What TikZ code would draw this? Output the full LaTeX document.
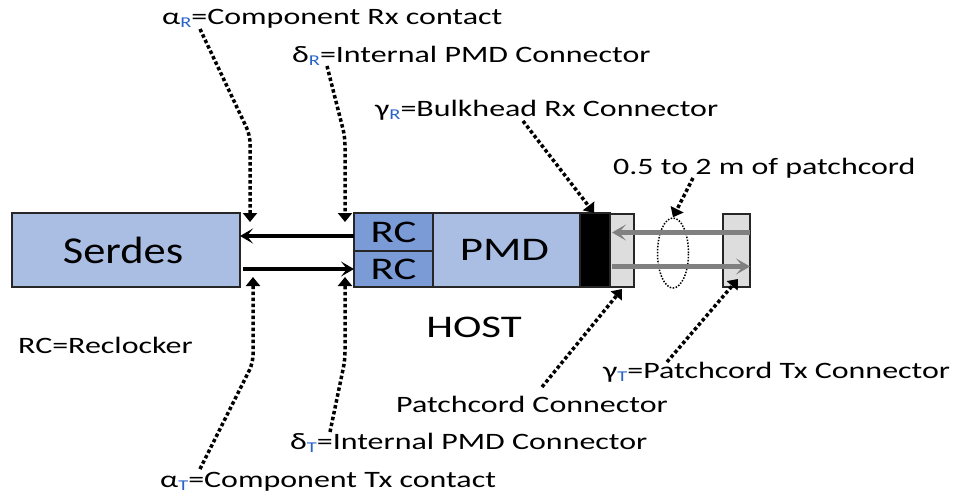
\documentclass[tikz,border=0pt]{standalone}
\usepackage{fontspec}
\setmainfont{Carlito}[FakeStretch=1.36]
\newfontfamily\serdesfont{Carlito}[FakeStretch=1.17]
\usetikzlibrary{arrows.meta,calc,shapes.geometric}
\definecolor{boxblue}{RGB}{170,190,228}
\definecolor{rcblue}{RGB}{122,155,214}
\definecolor{cordgray}{RGB}{221,221,221}
\definecolor{arrowgray}{RGB}{128,128,128}
\definecolor{subblue}{RGB}{40,100,200}
\newcommand\lsub[1]{\raisebox{-3pt}{\fontsize{15}{15}\selectfont\color{subblue}#1}}
\begin{document}
\begin{tikzpicture}[x=1pt,y=-1pt,
  blk/.style={draw=black!85,line width=1.2pt,inner sep=0pt,outer sep=0pt,anchor=north west},
  lbl/.style={anchor=base west,inner sep=0pt,font=\fontsize{23.5}{23.5}\selectfont},
  bigtext/.style={font=\fontsize{31.5}{31.5}\selectfont},
  ptr/.style={line width=3.5pt,dash pattern=on 3.5pt off 2.5pt,rounded corners=8pt,-{Triangle[width=14pt,length=9pt]}},
  sig/.style={line width=4pt,-{Stealth[length=13pt,width=15pt,inset=6pt]}},
  graysig/.style={line width=5pt,draw=arrowgray,-{Stealth[length=14pt,width=16pt,inset=7pt]}}
]
\useasboundingbox (0,0) rectangle (959,495);

% boxes
\node[blk,fill=boxblue,minimum width=228pt,minimum height=74pt] (serdes) at (12,213) {};
\node[font=\serdesfont\fontsize{38}{38}\selectfont] (serdestxt) at ([xshift=-3pt]serdes.center) {Serdes};
\node[blk,fill=rcblue,minimum width=79pt,minimum height=38pt] (rc1) at (354,213) {};
\node[bigtext] (rc1txt) at (rc1.center) {RC};
\node[blk,fill=rcblue,minimum width=79pt,minimum height=36pt] (rc2) at (354,251) {};
\node[bigtext] (rc2txt) at (rc2.center) {RC};
\node[blk,fill=boxblue,minimum width=147pt,minimum height=74pt] (pmd) at (433,213) {};
\node[font=\fontsize{33}{33}\selectfont] (pmdtxt) at ([xshift=-2pt]pmd.center) {PMD};
\node[blk,fill=black,minimum width=30pt,minimum height=74pt] (bulk) at (580,213) {};
\node[blk,fill=cordgray,minimum width=24pt,minimum height=73pt] (pc1) at (610,214) {};
\node[blk,fill=cordgray,minimum width=27pt,minimum height=73pt] (pc2) at (723,214) {};
\node[draw,line width=1.5pt,dash pattern=on 1.5pt off 1.5pt,ellipse,minimum width=31pt,minimum height=70pt,inner sep=0pt] (cord) at (673,253) {};

% signal arrows
\draw[sig] ([yshift=-4pt]rc1.west) -- ([yshift=-4pt]rc1.west -| serdes.east);
\draw[sig] ([xshift=3pt]serdes.east |- rc2.west) -- (rc2.west);
\draw[graysig] ([yshift=18pt]pc2.east) -- ([yshift=18pt,xshift=2pt]pc1.west);
\draw[graysig] ([yshift=-16pt,xshift=2pt]pc1.west) -- ([yshift=-16pt]pc2.east);

% texts
\node[lbl] (aR) at (162,25) {α\lsub{R}=Component Rx contact};
\node[lbl] (dR) at (292,63) {δ\lsub{R}=Internal PMD Connector};
\node[lbl] (gR) at (375,117) {γ\lsub{R}=Bulkhead Rx Connector};
\node[lbl] (len) at (613,174) {0.5 to 2 m of patchcord};
\node[lbl] (rcdef) at (18,353) {RC=Reclocker};
\node[anchor=base,inner sep=0pt,bigtext] (host) at (474,337) {HOST};
\node[lbl] (gT) at (603,378) {γ\lsub{T}=Patchcord Tx Connector};
\node[lbl] (pcc) at (396,412) {Patchcord Connector};
\node[lbl] (dT) at (290,449) {δ\lsub{T}=Internal PMD Connector};
\node[lbl] (aT) at (160,487) {α\lsub{T}=Component Tx contact};

% pointer coordinates
\coordinate (aRs) at (200,29);
\coordinate (aRt) at (250,222);
\coordinate (dRs) at (327,66);
\coordinate (dRt) at (345,222);
\coordinate (gRs) at (523,121);
\coordinate (gRt) at (594,213);
\coordinate (lens) at (693,178);
\coordinate (aTs) at (200,469);
\coordinate (aTt) at (253,277);
\coordinate (dTs) at (330,432);
\coordinate (dTt) at (345,277);
\coordinate (pccs) at (542,387);
\coordinate (pcct) at (622,289);
\coordinate (gTs) at (667,362);
\coordinate (gTt) at (738,279);

\draw[ptr] (aRs) -- (250,135) -- (aRt);
\draw[ptr] (dRs) -- (345,137) -- (dRt);
\draw[ptr] (gRs) -- (gRt);
\draw[ptr] (lens) -- (cord.north);
\draw[ptr] (aTs) -- (253,363) -- (aTt);
\draw[ptr] (dTs) -- (345,360) -- (dTt);
\draw[ptr] (pccs) -- (pcct);
\draw[ptr] (gTs) -- (gTt);
\end{tikzpicture}
\end{document}
